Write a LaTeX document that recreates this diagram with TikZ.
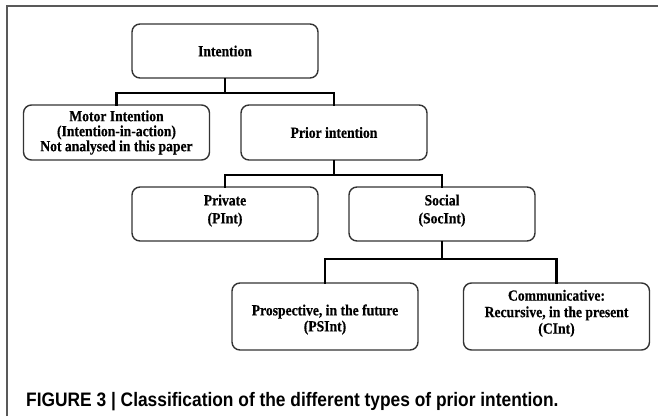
\documentclass[tikz,border=0pt]{standalone}
\usepackage{fontspec}
\setmainfont{Liberation Serif}
\newfontfamily\boxfont[FakeStretch=0.88,FakeBold=0.4]{Liberation Serif Bold}
\newfontfamily\captionfont[FakeStretch=0.89]{Liberation Sans Bold}
\usetikzlibrary{positioning}

\tikzset{
    box/.style={draw=black!80, line width=1.4pt, rounded corners=8pt,
        minimum width=186pt, minimum height=55pt, align=center,
        font=\fontsize{15.5}{16}\boxfont},
    tallbox/.style={box, minimum height=67pt},
    link/.style={line width=2.4pt, line cap=rect}
}

\begin{document}
\begin{tikzpicture}[x=1pt,y=-1pt]
    \useasboundingbox (0,0) rectangle (658,416);
    \draw[black!65, line width=1.2pt] (7,416) -- (7,6) -- (658,6);

    \node[box, minimum height=54pt] (intention) at (225,51) {Intention};
    \node[box, font=\fontsize{15.5}{15}\boxfont] (motor) at (116.5,132.5) {Motor Intention\\(Intention-in-action)\\Not analysed in this paper};
    \node[box] (prior) at (334,132.5) {Prior intention};
    \node[box, minimum height=54pt, font=\fontsize{15.5}{18}\boxfont, text depth=10pt] (private) at (225,214) {Private\\(PInt)};
    \node[box, minimum height=54pt, font=\fontsize{15.5}{18}\boxfont, text depth=10pt] (social) at (442,214) {Social\\(SocInt)};
    \node[tallbox, text height=33pt] (prospective) at (325,316.5) {Prospective, in the future\\(PSInt)};
    \node[tallbox, font=\fontsize{15.5}{16.5}\boxfont, text depth=9.5pt] (communicative) at (556.5,316.5) {Communicative:\\Recursive, in the present\\(CInt)};

    \node[anchor=base west, inner sep=0pt, font=\fontsize{19.5}{22}\captionfont] (caption) at (26,406)
        {FIGURE 3 | Classification of the different types of prior intention.};

\draw[link] (intention.south) -- ++(0,14) -| (motor.north);
\draw[link] (intention.south) -- ++(0,14) -| (prior.north);
\draw[link] (prior.south) -- ++(0,14) -| (private.north);
\draw[link] (prior.south) -- ++(0,14) -| (social.north);
\draw[link] (social.south) -- ++(0,17) -| (prospective.north);
\draw[link] (social.south) -- ++(0,17) -| (communicative.north);

\end{tikzpicture}
\end{document}
